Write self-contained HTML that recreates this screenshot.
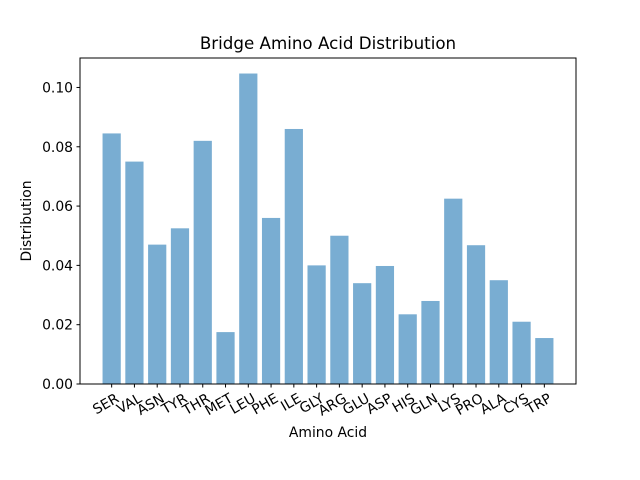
<!DOCTYPE html>
<html><head><meta charset="utf-8"><style>
body{margin:0;background:#fff}
svg{display:block;font-family:"DejaVu Sans","Liberation Sans",sans-serif}
</style></head><body>
<svg id="chart" width="640" height="480" viewBox="0 0 640 480">
<text x="328" y="49" text-anchor="middle" font-size="16.7">Bridge Amino Acid Distribution</text>
<text x="328" y="437" text-anchor="middle" font-size="13.9">Amino Acid</text>
<text transform="translate(31,221) rotate(-90)" text-anchor="middle" font-size="13.9">Distribution</text>
<g id="bars"></g><g id="ticks"></g>
<rect x="80" y="58" width="496" height="326" fill="none" stroke="#000" stroke-width="1"/>
</svg>
<script>
const categories = ["SER","VAL","ASN","TYR","THR","MET","LEU","PHE","ILE","GLY","ARG","GLU","ASP","HIS","GLN","LYS","PRO","ALA","CYS","TRP"];
const values = [0.0845,0.075,0.047,0.0525,0.082,0.0175,0.1047,0.056,0.086,0.040,0.050,0.034,0.0398,0.0235,0.028,0.0625,0.0468,0.035,0.021,0.0155];
const yTicks = [0,0.02,0.04,0.06,0.08,0.10];
const yTickLabels = ["0.00","0.02","0.04","0.06","0.08","0.10"];

const NS="http://www.w3.org/2000/svg";
const L=80,R=576,T=58,B=384;
const n=categories.length;
const xmin=-0.4-(n-0.2)*0.05, xmax=n-1+0.4+(n-0.2)*0.05;
const ymax=Math.max(...values)*1.05;
const xs=v=>L+(v-xmin)/(xmax-xmin)*(R-L);
const ys=v=>B-v/ymax*(B-T);
const bars=document.getElementById('bars'), ticks=document.getElementById('ticks');
function mk(tag,attrs,parent){const e=document.createElementNS(NS,tag);for(const k in attrs)e.setAttribute(k,attrs[k]);parent.appendChild(e);return e;}
values.forEach((v,i)=>{
  const x0=xs(i-0.4),x1=xs(i+0.4);
  const r=mk('rect',{x:x0,y:ys(v),width:x1-x0,height:B-ys(v),fill:'rgb(121,173,210)'},bars);
  
  
  const cx=xs(i);
  const tl=mk('line',{x1:cx,x2:cx,y1:B,y2:B+3.5,stroke:'#000'},ticks);
  
  
  const t=mk('text',{transform:`translate(${cx+3},${B+8}) rotate(-30)`,'text-anchor':'end','font-size':'13.9',dy:'0.75em'},ticks);
  t.textContent=categories[i];
  
  
});
yTicks.forEach((v,i)=>{
  const y=ys(v);
  const tl=mk('line',{x1:L-3.5,x2:L,y1:y,y2:y,stroke:'#000'},ticks);
  
  
  const t=mk('text',{x:L-7,y:y+5,'text-anchor':'end','font-size':'13.9'},ticks);
  t.textContent=yTickLabels[i];
  
  
});
</script>
</body></html>
